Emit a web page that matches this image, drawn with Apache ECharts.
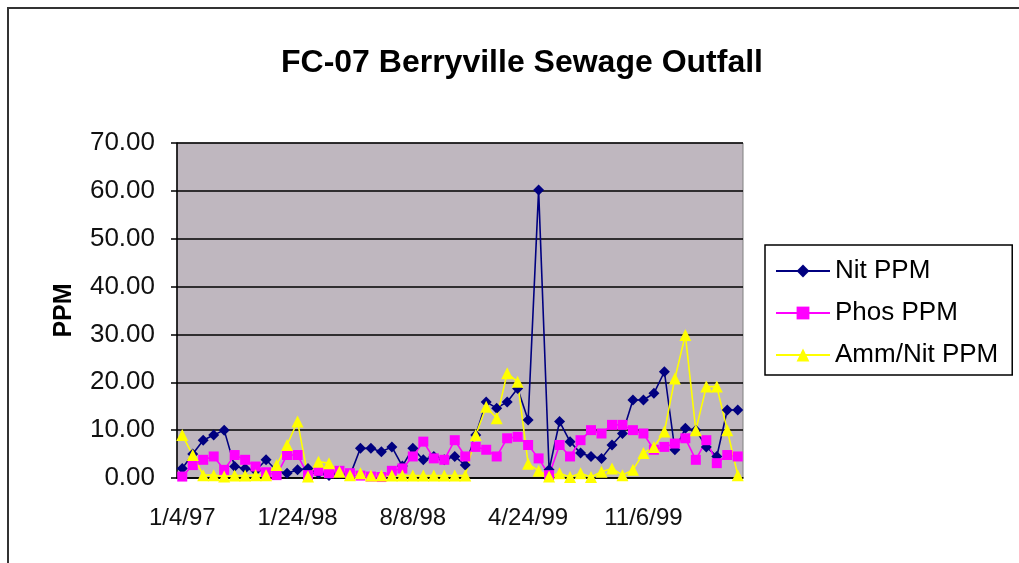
<!DOCTYPE html>
<html>
<head>
<meta charset="utf-8">
<script src="https://cdn.jsdelivr.net/npm/echarts@6/dist/echarts.min.js"></script>
<style>
  html, body { margin: 0; padding: 0; background: #fff; }
  #chart { width: 1019px; height: 563px; }
</style>
</head>
<body>
<div id="chart"></div>
<script>
// sample dates: only every 11th one is printed on the axis
const dates = [
    '1/4/97', '', '', '', '', '', '', '', '', '', '',
    '1/24/98', '', '', '', '', '', '', '', '', '', '',
    '8/8/98', '', '', '', '', '', '', '', '', '', '',
    '4/24/99', '', '', '', '', '', '', '', '', '', '',
    '11/6/99', '', '', '', '', '', '', '', '', ''
];
const nitPPM = [
    2.0, 5.0, 7.9, 9.0, 10.0, 2.4, 2.0, 1.5, 3.8, 1.5, 1.0,
    1.7, 2.0, 1.0, 0.5, 1.0, 0.5, 6.2, 6.2, 5.5, 6.5, 2.5,
    6.2, 3.8, 4.5, 3.8, 4.5, 2.7, 9.0, 15.9, 14.6, 15.9, 18.7,
    12.1, 60.2, 1.7, 11.8, 7.6, 5.2, 4.5, 4.1, 6.9, 9.3, 16.3,
    16.3, 17.7, 22.2, 5.9, 10.4, 10.0, 6.5, 4.5, 14.2, 14.2
];
const phosPPM = [
    0.3, 2.7, 3.8, 4.5, 1.7, 4.8, 3.8, 2.4, 1.2, 0.6, 4.8,
    4.8, 0.6, 1.5, 1.0, 1.5, 1.0, 0.5, 0.3, 0.2, 1.5, 2.0,
    4.5, 7.6, 4.1, 3.8, 7.9, 4.5, 6.5, 5.9, 4.5, 8.3, 8.6,
    6.9, 4.1, 0.6, 6.9, 4.5, 7.9, 10.0, 9.3, 11.1, 11.1, 10.0,
    9.3, 5.9, 6.5, 7.2, 8.3, 3.8, 7.9, 3.1, 4.8, 4.5
];
const ammNitPPM = [
    9.0, 4.8, 0.6, 0.6, 0.3, 0.5, 0.5, 0.6, 0.6, 2.7, 6.9,
    11.8, 0.3, 3.4, 3.1, 1.3, 0.6, 1.0, 0.5, 0.5, 0.5, 0.5,
    0.5, 0.5, 0.5, 0.5, 0.5, 0.5, 9.0, 14.9, 12.5, 21.9, 20.1,
    3.0, 1.5, 0.3, 1.0, 0.2, 1.0, 0.2, 1.3, 2.0, 0.6, 1.7,
    5.2, 6.5, 9.7, 20.8, 29.9, 10.0, 19.1, 19.1, 10.0, 0.6
];
const yTicks = { min: 0, max: 70, step: 10 };

const FONT = '"Liberation Sans", Arial, sans-serif';

let chart = echarts.init(document.getElementById('chart'), null, { renderer: 'canvas' });

function lineSeries(name, data, color, symbol, size) {
    return {
        name: name,
        type: 'line',
        data: data,
        symbol: symbol,
        symbolSize: size,
        showAllSymbol: true,
        animation: false,
        lineStyle: { color: color, width: 1.6 },
        itemStyle: { color: color, borderWidth: 0 },
        emphasis: { disabled: true }
    };
}

let option = {
    backgroundColor: '#fff',
    animation: false,
    // 标题
    title: {
        text: 'FC-07 Berryville Sewage Outfall',
        left: 276,
        top: 42,
        textStyle: { fontFamily: FONT, fontSize: 32, fontWeight: 'bold', color: '#000' }
    },
    // 图例
    legend: {
        orient: 'vertical',
        left: 765,
        top: 245,
        padding: [12, 14, 6, 10],
        itemWidth: 54,
        itemHeight: 16,
        itemGap: 14,
        borderColor: '#000',
        borderWidth: 1.5,
        backgroundColor: '#fff',
        textStyle: { fontFamily: FONT, fontSize: 26, color: '#000', lineHeight: 28 },
        data: ['Nit PPM', 'Phos PPM', 'Amm/Nit PPM']
    },
    grid: {
        left: 177,
        top: 143,
        width: 566,
        height: 335,
        show: true,
        backgroundColor: '#bfb7bf',
        borderColor: '#808080',
        borderWidth: 1
    },
    xAxis: {
        type: 'category',
        data: dates,
        boundaryGap: true,
        axisLine: { lineStyle: { color: '#000', width: 1.5 } },
        axisTick: { interval: 0, length: 6, lineStyle: { color: '#000', width: 1.5 } },
        axisLabel: {
            interval: 10,
            margin: 28,
            fontFamily: FONT,
            fontSize: 24,
            color: '#111'
        },
        splitLine: { show: false }
    },
    yAxis: {
        type: 'value',
        min: yTicks.min,
        max: yTicks.max,
        interval: yTicks.step,
        name: 'PPM',
        nameLocation: 'middle',
        nameRotate: 90,
        nameGap: 100,
        nameTextStyle: { fontFamily: FONT, fontSize: 25, fontWeight: 'bold', color: '#000' },
        axisLine: { show: true, lineStyle: { color: '#000', width: 1.5 } },
        axisTick: { show: true, length: 6, lineStyle: { color: '#000', width: 1.5 } },
        axisLabel: {
            margin: 22,
            fontFamily: FONT,
            fontSize: 26,
            color: '#111',
            formatter: function (v) { return v.toFixed(2); }
        },
        splitLine: { show: true, lineStyle: { color: '#000', width: 1.5 } }
    },
    graphic: [{
        type: 'rect',
        silent: true,
        shape: { x: 8, y: 8, width: 1100, height: 700 },
        style: { fill: 'none', stroke: '#333', lineWidth: 2 },
        z: -1
    }],
    series: [
        lineSeries('Nit PPM', nitPPM, '#000080', 'diamond', 11),
        lineSeries('Phos PPM', phosPPM, '#ff00ff', 'rect', 10),
        lineSeries('Amm/Nit PPM', ammNitPPM, '#ffff00', 'triangle', 12)
    ]
};

chart.setOption(option);
</script>
</body>
</html>
